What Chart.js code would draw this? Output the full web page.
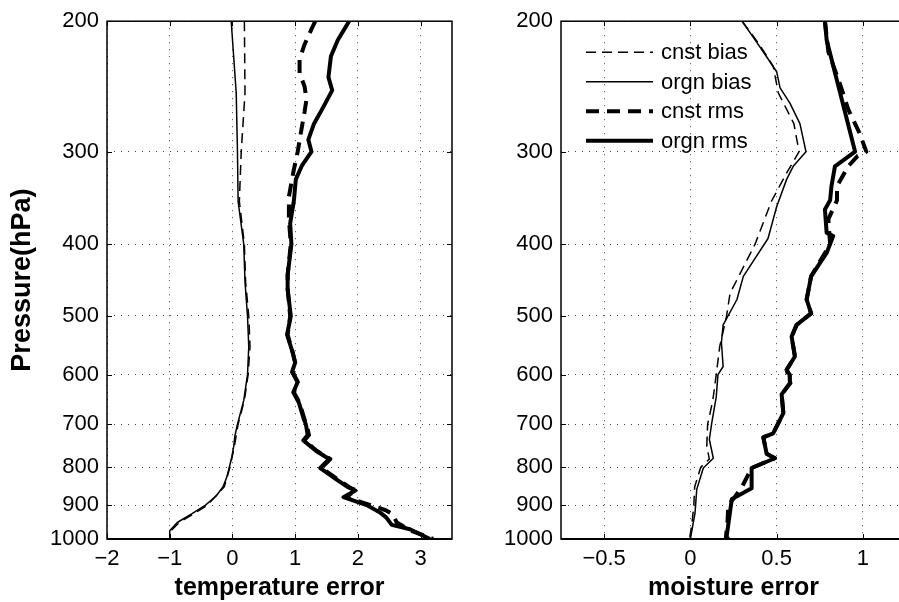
<!DOCTYPE html>
<html>
<head>
<meta charset="utf-8">
<script src="https://cdn.jsdelivr.net/npm/chart.js@4.4.0/dist/chart.umd.min.js"></script>
<style>
  html, body { margin: 0; padding: 0; background: #fff; overflow: hidden; }
  #wrap { position: relative; width: 899px; height: 602px; overflow: hidden; }
  #tempBox { position: absolute; left: 0; top: 0; width: 460px; height: 602px; }
  #moistBox { position: absolute; left: 460px; top: 0; width: 460px; height: 602px; }
</style>
</head>
<body>
<div id="wrap">
  <div id="tempBox"><canvas id="tempChart"></canvas></div>
  <div id="moistBox"><canvas id="moistChart"></canvas></div>
</div>
<script>
// pressure axis
const pressureTicks = [200, 300, 400, 500, 600, 700, 800, 900, 1000];

// temperature error (left panel)
const tempTicks = [-2, -1, 0, 1, 2, 3];
const tempBiasCnstP = [200, 250, 300, 350, 400, 450, 500, 550, 600, 650, 700, 750, 800, 850, 900, 925, 950, 975, 1000];
const tempBiasCnst  = [0.19, 0.20, 0.14, 0.11, 0.19, 0.21, 0.26, 0.28, 0.25, 0.19, 0.09, 0.03, -0.04, -0.13, -0.40, -0.62, -0.85, -0.98, -1.00];
const tempBiasOrgnP = [200, 250, 300, 350, 400, 450, 500, 550, 600, 650, 700, 725, 750, 775, 800, 825, 850, 875, 900, 925, 950, 975, 1000];
const tempBiasOrgn  = [-0.02, 0.06, 0.08, 0.09, 0.18, 0.20, 0.24, 0.26, 0.24, 0.18, 0.08, 0.04, 0.02, -0.01, -0.05, -0.09, -0.15, -0.26, -0.43, -0.65, -0.88, -1.00, -1.00];
const tempRmsCnstP = [200, 205, 215, 225, 235, 245, 255, 265, 280, 300, 320, 345, 370, 400, 440, 460, 500, 530, 560, 578, 595, 614, 634, 655, 690, 700, 724, 736, 760, 780, 802, 830, 852, 860, 878, 900, 915, 925, 950, 975, 1000];
const tempRmsCnst  = [1.32, 1.26, 1.15, 1.07, 1.07, 1.15, 1.18, 1.15, 1.10, 1.04, 0.97, 0.90, 0.90, 0.93, 0.88, 0.88, 0.92, 0.88, 0.96, 1.00, 0.96, 1.04, 0.98, 1.07, 1.15, 1.18, 1.22, 1.15, 1.34, 1.56, 1.42, 1.67, 1.87, 1.98, 1.80, 2.20, 2.45, 2.55, 2.62, 2.85, 3.20];
const tempRmsOrgnP = [200, 212, 223, 238, 248, 261, 275, 289, 300, 313, 327, 349, 375, 400, 440, 460, 500, 530, 560, 578, 595, 614, 634, 655, 690, 700, 724, 736, 760, 780, 802, 830, 852, 860, 878, 900, 922, 935, 957, 970, 1000];
const tempRmsOrgn  = [1.86, 1.68, 1.57, 1.53, 1.59, 1.45, 1.30, 1.21, 1.26, 1.11, 1.01, 0.98, 0.92, 0.94, 0.88, 0.88, 0.93, 0.87, 0.96, 1.00, 0.95, 1.04, 0.97, 1.06, 1.14, 1.17, 1.20, 1.13, 1.33, 1.54, 1.40, 1.65, 1.85, 1.96, 1.77, 2.14, 2.36, 2.45, 2.54, 2.83, 3.15];

// moisture error (right panel)
const moistTicks = [-0.5, 0, 0.5, 1];
const moistBiasCnstP = [200, 215, 230, 250, 275, 300, 320, 350, 400, 466, 500, 550, 600, 650, 700, 750, 780, 800, 850, 900, 950, 1000];
const moistBiasCnst  = [0.30, 0.40, 0.48, 0.51, 0.60, 0.63, 0.56, 0.47, 0.375, 0.23, 0.21, 0.17, 0.15, 0.13, 0.10, 0.095, 0.11, 0.06, 0.025, 0.02, 0.01, -0.005];
const moistBiasOrgnP = [200, 212, 223, 234, 246, 258, 275, 300, 314, 327, 356, 393, 442, 475, 514, 543, 585, 600, 643, 697, 734, 778, 802, 857, 922, 1000];
const moistBiasOrgn  = [0.30, 0.375, 0.44, 0.50, 0.52, 0.577, 0.635, 0.67, 0.596, 0.558, 0.50, 0.45, 0.307, 0.27, 0.19, 0.18, 0.19, 0.16, 0.15, 0.124, 0.11, 0.133, 0.075, 0.037, 0.027, 0.0];
const moistRmsCnstP = [200, 220, 243, 263, 283, 300, 304, 314, 334, 349, 370, 400, 442, 475, 496, 514, 533, 567, 591, 616, 638, 676, 720, 729, 767, 778, 802, 850, 876, 900, 950, 1000];
const moistRmsCnst  = [0.78, 0.80, 0.867, 0.915, 0.98, 1.02, 0.97, 0.915, 0.85, 0.85, 0.80, 0.81, 0.70, 0.674, 0.70, 0.616, 0.587, 0.606, 0.558, 0.58, 0.529, 0.539, 0.48, 0.423, 0.442, 0.49, 0.355, 0.30, 0.26, 0.22, 0.215, 0.205];
const moistRmsOrgnP = [200, 212, 300, 314, 334, 349, 359, 386, 390, 411, 442, 475, 496, 514, 533, 567, 591, 600, 616, 638, 676, 720, 729, 767, 778, 802, 854, 876, 884, 993, 1000];
const moistRmsOrgn  = [0.78, 0.79, 0.955, 0.838, 0.818, 0.81, 0.78, 0.79, 0.828, 0.79, 0.70, 0.674, 0.70, 0.616, 0.587, 0.606, 0.558, 0.575, 0.577, 0.529, 0.539, 0.48, 0.423, 0.442, 0.49, 0.355, 0.355, 0.268, 0.24, 0.21, 0.22];

const seriesNames = ['cnst bias', 'orgn bias', 'cnst rms', 'orgn rms'];

const FONT = '"Liberation Sans", Arial, Helvetica, sans-serif';

function pts(xs, ps) {
  return xs.map((v, i) => ({ x: v, y: ps[i] }));
}

function fmt(v) {
  return v < 0 ? '\u2212' + Math.abs(v) : String(v);
}

function makeSets(bc, bcP, bo, boP, rc, rcP, ro, roP) {
  const base = { borderColor: '#000', pointRadius: 0, showLine: true, tension: 0, borderJoinStyle: 'round' };
  return [
    Object.assign({ label: seriesNames[0], data: pts(bc, bcP), borderWidth: 1.5, borderDash: [10, 6] }, base),
    Object.assign({ label: seriesNames[1], data: pts(bo, boP), borderWidth: 1.5 }, base),
    Object.assign({ label: seriesNames[2], data: pts(rc, rcP), borderWidth: 4, borderDash: [13, 8] }, base),
    Object.assign({ label: seriesNames[3], data: pts(ro, roP), borderWidth: 4 }, base)
  ];
}

// box round the axes, with inward tick marks
const framePlugin = {
  id: 'frame',
  afterDatasetsDraw(chart) {
    const { ctx, chartArea: a, scales } = chart;
    ctx.save();
    ctx.strokeStyle = '#000';
    ctx.setLineDash([]);
    ctx.lineWidth = 1.5;
    ctx.strokeRect(a.left, a.top, a.right - a.left, a.bottom - a.top);
    ctx.lineWidth = 2;
    ctx.beginPath();
    ctx.moveTo(a.left, a.bottom);
    ctx.lineTo(a.right, a.bottom);
    ctx.stroke();
    ctx.lineWidth = 1;
    ctx.beginPath();
    scales.x.ticks.forEach(t => {
      const px = Math.round(scales.x.getPixelForValue(t.value)) + 0.5;
      ctx.moveTo(px, a.bottom); ctx.lineTo(px, a.bottom - 5);
      ctx.moveTo(px, a.top); ctx.lineTo(px, a.top + 5);
    });
    scales.y.ticks.forEach(t => {
      const py = Math.round(scales.y.getPixelForValue(t.value)) + 0.5;
      ctx.moveTo(a.left, py); ctx.lineTo(a.left + 5, py);
      ctx.moveTo(a.right, py); ctx.lineTo(a.right - 5, py);
    });
    ctx.stroke();
    ctx.restore();
  }
};

// legend drawn inside the axes, top left
const insideLegend = {
  id: 'insideLegend',
  afterDraw(chart) {
    if (!chart.options.plugins.insideLegend.show) return;
    const { ctx, chartArea: a } = chart;
    ctx.save();
    ctx.font = '22px ' + FONT;
    ctx.textBaseline = 'middle';
    ctx.fillStyle = '#000';
    chart.data.datasets.forEach((ds, i) => {
      const y = a.top + 31 + i * 29.5;
      ctx.beginPath();
      ctx.setLineDash(ds.borderDash || []);
      ctx.lineWidth = ds.borderWidth;
      ctx.strokeStyle = ds.borderColor;
      ctx.moveTo(a.left + 25, y);
      ctx.lineTo(a.left + 92, y);
      ctx.stroke();
      ctx.setLineDash([]);
      ctx.fillText(ds.label, a.left + 100, y + 1);
    });
    ctx.restore();
  }
};

function makePanel(id, datasets, xMin, xMax, xTicks, xTitle, yTitle, yWidth, padRight, legend) {
  return new Chart(document.getElementById(id), {
    type: 'scatter',
    data: { datasets: datasets },
    plugins: [framePlugin, insideLegend],
    options: {
      responsive: true,
      maintainAspectRatio: false,
      animation: false,
      layout: { padding: { left: 0, right: padRight, top: 21, bottom: 0 } },
      plugins: {
        legend: { display: false },
        tooltip: { enabled: false },
        insideLegend: { show: legend }
      },
      scales: {
        x: {
          type: 'linear',
          min: xMin,
          max: xMax,
          afterBuildTicks: s => { s.ticks = xTicks.map(v => ({ value: v })); },
          afterFit: s => { s.height = 63; },
          grid: { color: '#444', lineWidth: 1, drawTicks: false },
          border: { display: false, dash: [1, 6] },
          ticks: {
            color: '#000', font: { family: FONT, size: 22 }, padding: 7,
            autoSkip: false, maxRotation: 0, callback: v => fmt(v)
          },
          title: {
            display: true, text: xTitle, color: '#000',
            font: { family: FONT, size: 25, weight: 'bold' }, padding: { top: 0, bottom: -1 }
          }
        },
        y: {
          type: 'logarithmic',
          min: 200,
          max: 1000,
          reverse: true,
          afterBuildTicks: s => { s.ticks = pressureTicks.map(v => ({ value: v })); },
          afterFit: s => { s.width = yWidth; },
          grid: { color: '#444', lineWidth: 1, drawTicks: false },
          border: { display: false, dash: [1, 6] },
          ticks: {
            color: '#000', font: { family: FONT, size: 22 }, padding: 8,
            autoSkip: false, callback: v => String(v)
          },
          title: {
            display: yTitle !== '', text: yTitle, color: '#000',
            font: { family: FONT, size: 27, weight: 'bold' }, padding: { top: 6, bottom: 0 }
          }
        }
      }
    }
  });
}

window.addEventListener('load', () => {
  makePanel('tempChart',
    makeSets(tempBiasCnst, tempBiasCnstP, tempBiasOrgn, tempBiasOrgnP, tempRmsCnst, tempRmsCnstP, tempRmsOrgn, tempRmsOrgnP),
    -2, 3.5, tempTicks, 'temperature error', 'Pressure(hPa)', 107, 8, false);
  makePanel('moistChart',
    makeSets(moistBiasCnst, moistBiasCnstP, moistBiasOrgn, moistBiasOrgnP, moistRmsCnst, moistRmsCnstP, moistRmsOrgn, moistRmsOrgnP),
    -0.75, 1.25, moistTicks, 'moisture error', '', 101, 14, true);
});
</script>
</body>
</html>
